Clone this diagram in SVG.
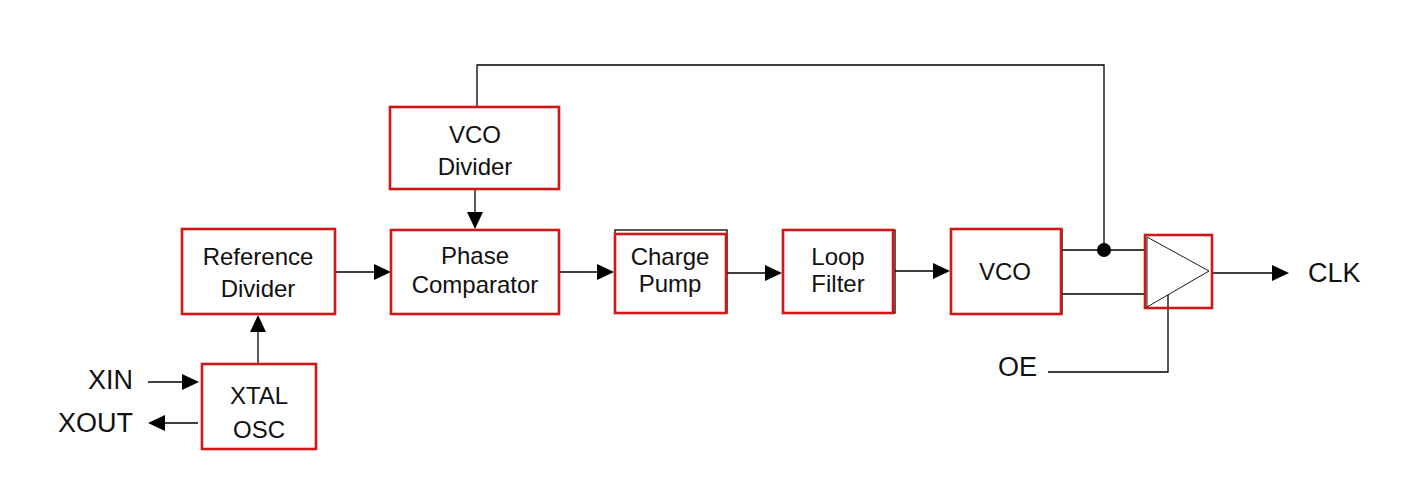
<svg xmlns="http://www.w3.org/2000/svg" width="1411" height="492" viewBox="0 0 1411 492">
<style>
.box{fill:#fff;stroke:#d01818;stroke-width:2.6}
.under{fill:none;stroke:#000;stroke-width:1.3}
.t{font-family:"Liberation Sans",Arial,sans-serif;font-size:24px;fill:#111;text-anchor:middle}
.lbl{font-family:"Liberation Sans",Arial,sans-serif;font-size:27px;fill:#111}
.w{fill:none;stroke:#000;stroke-width:1.3}
.ah{fill:#000}
</style>
<rect width="1411" height="492" fill="#fff"/>
<g id="connectors">
<path class="w" d="M148,382H185"/><polygon class="ah" points="199,382 182,374 182,390"/>
<path class="w" d="M198,423H163"/><polygon class="ah" points="148,423 165,415 165,431"/>
<path class="w" d="M258,364V330"/><polygon class="ah" points="258,315 250,332 266,332"/>
<path class="w" d="M336,272H376"/><polygon class="ah" points="391,272 374,264 374,280"/>
<path class="w" d="M477,107V65H1104V250"/>
<path class="w" d="M475,189V214"/><polygon class="ah" points="475,229 467,212 483,212"/>
<path class="w" d="M559,272H599"/><polygon class="ah" points="614,272 597,264 597,280"/>
<path class="w" d="M727,273H767"/><polygon class="ah" points="782,273 765,265 765,281"/>
<path class="w" d="M895,271H935"/><polygon class="ah" points="950,271 933,263 933,279"/>
<path class="w" d="M1062,250H1145M1062,294H1145"/>
<circle cx="1104" cy="250" r="7" fill="#000"/>
<path class="w" d="M1212,273H1274"/><polygon class="ah" points="1289,273 1272,265 1272,281"/>
<path class="w" d="M1048,372H1168V295"/>
</g>
<g id="ref-divider">
<rect class="box" x="182" y="229" width="153" height="85"/>
<text class="t" x="258" y="265">Reference</text>
<text class="t" x="258" y="297">Divider</text>
</g>
<g id="xtal-osc">
<rect class="box" x="202" y="364" width="114" height="85"/>
<text class="t" x="259" y="404">XTAL</text>
<text class="t" x="259" y="438">OSC</text>
</g>
<g id="vco-divider">
<rect class="box" x="390" y="107" width="169" height="82"/>
<text class="t" x="475" y="143">VCO</text>
<text class="t" x="475" y="175">Divider</text>
</g>
<g id="phase-comparator">
<rect class="box" x="391" y="230" width="168" height="84"/>
<text class="t" x="475" y="264">Phase</text>
<text class="t" x="475" y="293">Comparator</text>
</g>
<g id="charge-pump">
<rect class="under" x="615" y="230" width="112" height="83"/>
<rect class="box" x="615" y="234" width="111" height="79"/>
<text class="t" x="670" y="265">Charge</text>
<text class="t" x="670" y="292">Pump</text>
</g>
<g id="loop-filter">
<rect class="under" x="783" y="230" width="112" height="83"/>
<rect class="box" x="783" y="230" width="110" height="83"/>
<text class="t" x="838" y="265">Loop</text>
<text class="t" x="838" y="292">Filter</text>
</g>
<g id="vco">
<rect class="under" x="951" y="229" width="111" height="85"/>
<rect class="box" x="951" y="229" width="110" height="85"/>
<text class="t" x="1005" y="280">VCO</text>
</g>
<g id="buffer">
<rect class="box" x="1145" y="235" width="67" height="73" style="fill:none"/>
<polygon points="1147,237 1209,271 1147,307" fill="none" stroke="#000" stroke-width="0.9"/>
</g>
<g id="labels">
<text class="lbl" x="133" y="389" text-anchor="end">XIN</text>
<text class="lbl" x="133" y="432" text-anchor="end">XOUT</text>
<text class="lbl" x="998" y="376">OE</text>
<text class="lbl" x="1308" y="282">CLK</text>
</g>
</svg>
